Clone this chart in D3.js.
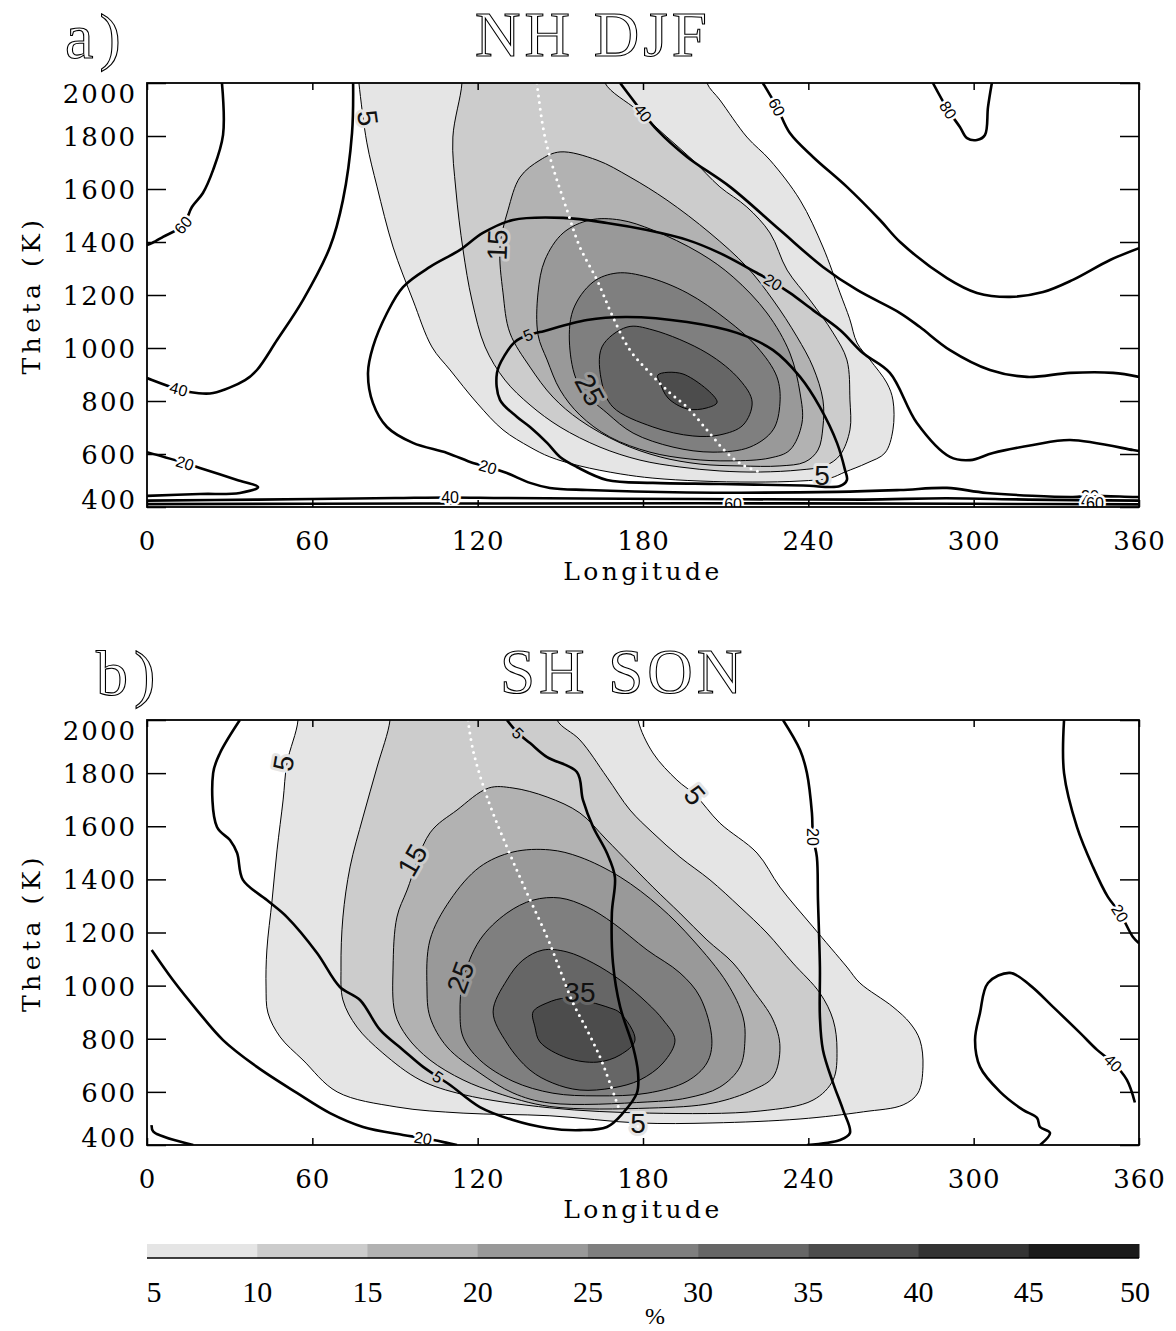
<!DOCTYPE html>
<html><head><meta charset="utf-8">
<script src="https://cdn.jsdelivr.net/npm/d3@7"></script>
<style>body{margin:0;background:#fff}</style>
</head><body><svg id="c" width="1176" height="1331"></svg>
<script>
// ---------------- data ----------------
const lonTicks = [0,60,120,180,240,300,360];
const thetaTicks = [400,600,800,1000,1200,1400,1600,1800,2000];
const cbTicks = [5,10,15,20,25,30,35,40,45,50];
const bandColors = ['#e5e5e5','#cccccc','#b2b2b2','#999999','#7f7f7f','#666666','#4c4c4c','#333333','#1a1a1a'];
const shadeLevels = [5,10,15,20,25,30,35];

// Panel a (NH DJF): shaded contours [lon, theta]
const a_c5 = [[76,2100],[76.9,2000],[79.8,1774],[83.5,1608],[89.3,1381],[96.5,1181],[103.4,1004],[110,917],[119.8,792],[129.2,691],[139,626],[146.2,589],[157.1,555],[171.7,525],[183.6,509],[200.7,498],[219.9,494],[237,498],[247.9,509],[253.3,532],[261.3,566],[267.8,604],[270.7,691],[270.7,804],[268.5,868],[262.4,955],[257.7,1019],[255,1110],[251.5,1208],[245.3,1381],[237,1558],[226.1,1709],[217.7,1796],[207.9,1936],[203.2,2000],[202,2100]];
const a_c10 = [[114,2100],[114.3,2000],[111,1796],[112.1,1596],[114.7,1370],[117.9,1181],[122.7,1004],[129.9,879],[139,785],[149.9,702],[164.4,626],[178.9,577],[193.4,551],[207.9,536],[222.5,532],[237,540],[246,555],[251.5,596],[255.1,691],[255.1,804],[254,955],[249,1057],[240.6,1181],[232.3,1294],[226.1,1434],[217.7,1532],[207.9,1608],[198.1,1709],[188.7,1796],[177.8,1898],[166.2,2000],[165,2100]];
const a_c15 = [[149.9,1740],[142.6,1709],[135.4,1645],[131,1520],[128.1,1381],[129.2,1208],[131.7,1057],[139,928],[147.3,815],[157.1,728],[171.7,642],[186.2,589],[200.7,562],[215.2,555],[229.7,555],[238.8,570],[243.5,615],[245.3,702],[245.3,804],[241.7,928],[235.9,1042],[227.2,1181],[217.7,1306],[204.3,1434],[188.7,1558],[175.3,1645],[163.3,1709]];
const a_c20 = [[151,1434],[160.8,1483],[171.7,1483],[183.6,1445],[200.7,1358],[212.7,1268],[225,1132],[233.3,981],[237,830],[237.7,717],[233.3,615],[226.1,585],[211.6,574],[197.1,581],[182.5,607],[168,664],[157.1,747],[149.9,842],[145.2,955],[141.9,1050],[141.9,1208],[144.4,1332]];
const a_c25 = [[154.6,1143],[161.9,1249],[170.6,1283],[181.5,1268],[196,1208],[210.5,1106],[221.4,1004],[228.6,891],[229.7,792],[227.2,691],[218.8,626],[205.4,607],[190.9,626],[176.4,679],[166.9,755],[157.1,853],[153.5,992]];
const a_c30 = [[165.1,1004],[174.2,1079],[183.6,1068],[203.2,981],[215.2,879],[219.6,796],[216.3,709],[207.9,672],[198.1,668],[183.6,702],[169.1,777],[165.1,868]];
const a_c35 = [[185.4,898],[194.5,902],[206.9,796],[203.2,774],[196,770],[189.1,811],[186.2,868]];

// Panel a thick contours
const a_t60l = [[27.2,2000],[27.6,1804],[24,1672],[20.3,1585],[16.3,1532],[13.1,1464],[5.8,1419],[1.8,1396],[0,1389]];
const a_t40l = [[74.8,2000],[74.4,1811],[71.1,1558],[66.4,1381],[56.6,1181],[47.2,1030],[39.9,917],[35.6,879],[24,830],[18.1,830],[12,842],[1.8,879],[0,887]];
const a_t20l = [[0,607],[13.8,566],[19.2,547],[32.7,502],[40.3,475],[33.7,453],[19.2,449],[0,442]];
const a_t20 = [[360,611],[357.8,615],[335,653],[321.5,634],[307,604],[298.7,577],[291.4,589],[279.4,717],[269.6,906],[259.8,981],[251.5,1068],[241.7,1143],[233.3,1208],[227.2,1249],[221.4,1283],[207.9,1358],[196,1408],[181.5,1445],[166.9,1472],[151,1491],[132.8,1483],[121.9,1434],[113.6,1370],[102.7,1306],[92.9,1230],[87.1,1132],[82,1004],[80.2,906],[82,792],[87.1,702],[96.5,642],[108.9,604],[118.3,566],[123.7,551],[130.6,528],[139,491],[146.2,472],[159.7,464],[196,455],[250.4,457],[273.3,464],[290.3,472],[304.8,453],[336,438],[342.2,442],[357.8,438],[360,438]];
const a_t40 = [[171.7,2000],[180,1887],[185.1,1823],[196,1721],[211.6,1608],[229.7,1445],[245.3,1306],[257.7,1219],[273.3,1132],[280.5,1079],[291.4,992],[305.9,917],[319.4,891],[335,906],[350.6,906],[360,891]];
const a_t60 = [[223.5,2000],[228.6,1909],[233.3,1811],[241.7,1721],[254,1608],[266,1483],[273.3,1400],[290.3,1264],[301.2,1208],[313.2,1193],[325.2,1211],[336,1257],[349.5,1332],[360,1377]];
const a_t80 = [[285.2,2000],[290.7,1898],[295,1834],[297.6,1792],[301.2,1785],[304.1,1804],[305.2,1909],[306.6,2000]];
const a_t5 = [[138.3,1049],[142.6,1060],[159.7,1106],[174.2,1117],[196,1098],[214.1,1057],[227.2,992],[237,891],[244.2,777],[250.4,642],[253.3,540],[254,502],[251.5,479],[238.1,481],[207.9,487],[183.6,491],[166.9,502],[156,551],[149.9,589],[145.2,642],[139,702],[134.3,740],[128.1,804],[127,906],[129.9,974],[133.5,1023]];
const a_t40b = [[0,424],[40,428],[90,434],[110,436],[130,434],[200,430],[260,428],[290,433],[320,428],[360,424]];
const a_t60b = [[0,411],[100,413],[200,414],[300,412],[360,410]];
const a_dots = [[141.5,2000],[143.7,1834],[146.2,1721],[152.4,1521],[157.1,1381],[163.3,1257],[169.1,1117],[175.3,992],[182.5,906],[189.8,830],[196,777],[203.2,691],[210.5,604],[216.3,558],[223.5,528]];
const a_bigLabels = [[80.2,1868,'5'],[127,1389,'15'],[160.8,842,'25'],[245,521,'5']];
const a_smallLabels = [[13.1,1464,'60'],[11.5,845,'40'],[13.8,566,'20'],[180,1887,'40'],[228.6,1909,'60'],[290.7,1898,'80'],[227.2,1249,'20'],[138.3,1049,'5'],[123.7,551,'20'],[110,437,'40'],[212.7,410,'60'],[342.2,442,'20'],[342.2,421,'40'],[344,414,'60']];

// Panel b (SH SON)
const b_c5 = [[54,2100],[54.8,2000],[50.8,1838],[49.4,1699],[47.2,1511],[45.4,1322],[43.5,1134],[43.2,995],[43.9,897],[48.3,807],[56.6,720],[69,600],[90.7,543],[114.7,520],[146.2,510],[178.2,483],[205.4,483],[237,498],[260,525],[274.4,551],[279.8,596],[281.6,694],[280.5,795],[276.9,859],[270.7,920],[258.7,1010],[254,1070],[241.7,1221],[229.7,1371],[221.4,1499],[207.9,1612],[198.9,1718],[192.3,1774],[183.6,1876],[178.2,2000],[178,2100]];
const b_c10 = [[88,2100],[88.2,2000],[83.5,1823],[78.4,1635],[73.7,1447],[71.1,1258],[70.4,1070],[71.1,946],[76.2,844],[85.6,746],[99.1,645],[114.7,590],[146.2,540],[182.5,520],[222.5,528],[241.7,569],[249,645],[250.4,758],[249,871],[244.2,972],[234.4,1085],[225,1198],[215.2,1296],[204.3,1398],[193.4,1484],[183.6,1575],[175.3,1661],[166.9,1785],[157.1,1925],[148.8,2000],[148,2100]];
const b_c15 = [[102.7,1575],[94.4,1360],[90.7,1258],[89.3,1070],[90,897],[94.4,807],[102.7,720],[114.7,645],[127,596],[146.2,545],[182.5,539],[205.4,558],[219.9,607],[227.2,656],[229.7,769],[227.2,871],[219.9,984],[212.7,1085],[203.2,1172],[193.4,1273],[183.6,1371],[166.9,1548],[157.1,1650],[145.2,1710],[132.8,1744],[124,1744],[112.5,1661]];
const b_c20 = [[101.6,995],[102.7,1172],[110,1322],[120.8,1447],[132.8,1503],[146.2,1511],[157.1,1484],[171.7,1409],[186.2,1296],[198.1,1172],[210.5,1010],[216.3,882],[217,795],[215.2,694],[207.9,618],[196,577],[181.5,562],[146.2,558],[132.8,596],[120.8,671],[108.9,769],[102.7,882]];
const b_c25 = [[113.6,901],[114.7,1021],[120.8,1172],[130.6,1273],[140.1,1322],[149.9,1330],[159.7,1296],[169.1,1236],[181.5,1134],[193.4,1048],[200.7,957],[205,795],[203.2,709],[196,640],[181.5,595],[163.3,585],[147.3,595],[132.8,640],[120.8,720],[114.7,807]];
const b_c30 = [[125.6,901],[130.6,1021],[136.4,1096],[143.7,1134],[152.4,1127],[161.9,1085],[171.7,1021],[181.5,935],[187.3,871],[191.6,795],[187.3,709],[178.9,645],[169.1,615],[157.1,607],[147.3,633],[139,682],[130.6,784]];
const b_c35 = [[140.1,901],[145.2,935],[152.4,953],[168,916],[171.7,897],[177.1,795],[171.7,739],[163.3,712],[152.4,728],[142.6,788],[140.8,844]];

const b_t5 = [[33.7,2000],[26.5,1876],[24,1800],[25.4,1597],[30.1,1548],[32.7,1499],[34.8,1398],[43.5,1322],[50.8,1258],[61.7,1123],[70,995],[77.3,946],[84.6,833],[92.9,758],[100.2,694],[105.6,656],[110,626],[120.8,543],[132.8,494],[145.2,464],[157.1,456],[166.9,468],[172.7,520],[177.8,596],[178.2,671],[176.4,769],[171.7,920],[169.1,1085],[168.7,1273],[169.8,1409],[166.9,1499],[161.9,1597],[158.2,1699],[156,1804],[145.2,1860],[139,1913],[134.6,1951],[130.6,2000]];
const b_t20v = [[230.8,2000],[237,1887],[239.5,1800],[241.3,1650],[241.7,1560],[243.1,1484],[243.5,1322],[244.2,1070],[244.2,882],[245.3,758],[249,633],[252.6,532],[255.1,445],[251.5,419],[239.5,400]];
const b_t20l = [[1.7,1134],[9.4,1021],[18.1,908],[27.6,795],[39.9,694],[54.4,596],[66.4,520],[78.4,468],[92.9,438],[100.2,426],[108.9,408],[112.5,400]];
const b_tl = [[1.7,475],[2.3,450],[16.8,400]];
const b_t20r = [[332.8,2000],[332.8,1800],[337.5,1597],[343.3,1447],[348.7,1334],[353.1,1273],[357.8,1183],[360,1160]];
const b_t40r = [[324.1,400],[327.7,445],[324.1,468],[323,502],[317.9,532],[309.6,600],[302.3,694],[300.5,795],[302.3,897],[305.2,1010],[313.2,1048],[320.4,1002],[328.8,920],[338.6,822],[344.8,758],[350.6,709],[355.6,645],[358.5,560]];
const b_dots = [[116.5,2000],[118.3,1887],[123.4,1710],[130.6,1522],[137.9,1349],[145.2,1183],[149.9,1059],[154.6,935],[159.7,833],[164.4,731],[168,633],[171.7,524]];
const b_bigLabels = [[49.4,1838,'5'],[96.2,1473,'15'],[113.6,1032,'25'],[157.1,975,'35'],[198.9,1718,'5'],[178.2,483,'5']];
const b_smallLabels = [[134.6,1951,'5'],[241.7,1560,'20'],[353.1,1273,'20'],[350.6,709,'40'],[105.6,656,'5'],[100.2,426,'20']];

// ---------------- styles (kept apart from data) ----------------
const a_bigStyle = [[82,'#e5e5e5'],[-88,'#cccccc'],[62,'#999999'],[0,'#e5e5e5']];
const a_smallStyle = [[-50,'#fff'],[15,'#fff'],[17,'#fff'],[52,'#e5e5e5'],[62,'#fff'],[58,'#fff'],[31,'#cccccc'],[-22,'#b2b2b2'],[16,'#fff'],[0,'#fff'],[0,'#fff'],[0,'#fff'],[0,'#fff'],[0,'#fff']];
const b_bigStyle = [[-80,'#e5e5e5'],[-60,'#cccccc'],[-70,'#999999'],[0,'#666666'],[50,'#e5e5e5'],[0,'#e5e5e5']];
const b_smallStyle = [[45,'#cccccc'],[90,'#fff'],[58,'#fff'],[45,'#fff'],[34,'#cccccc'],[10,'#fff']];

// ---------------- drawing ----------------
const svg = d3.select('#c');
const x = d3.scaleLinear().domain([0,360]).range([147,1139]);
const colorOf = lv => bandColors[shadeLevels.indexOf(lv)];

function drawPanel(cfg){
  const y = d3.scaleLinear().domain([400,2000]).range([cfg.bottom, cfg.top]);
  const g = svg.append('g');
  const clipId = 'clip' + cfg.id;
  svg.append('clipPath').attr('id', clipId).append('rect')
     .attr('x', x(0)).attr('y', y(2000)).attr('width', x(360)-x(0)).attr('height', y(400)-y(2000));
  const pg = g.append('g').attr('clip-path', `url(#${clipId})`);
  const closed = d3.line().x(d=>x(d[0])).y(d=>y(d[1])).curve(d3.curveCatmullRomClosed.alpha(0.5));
  const open = d3.line().x(d=>x(d[0])).y(d=>y(d[1])).curve(d3.curveCatmullRom.alpha(0.5));

  cfg.shaded.forEach((c,i)=>{
    pg.append('path').attr('d', closed(c)).attr('fill', colorOf(shadeLevels[i]))
      .attr('stroke','#000').attr('stroke-width',1);
  });
  cfg.big.forEach((d,i)=>{
    const s = cfg.bigStyle[i];
    pg.append('text').attr('transform',`translate(${x(d[0])},${y(d[1])}) rotate(${s[0]})`)
      .attr('text-anchor','middle').attr('dy','0.36em')
      .attr('font-family','Liberation Sans, Arial, sans-serif').attr('font-size',28)
      .attr('fill','#111').attr('stroke',s[1]).attr('stroke-width',6)
      .attr('paint-order','stroke').attr('stroke-linejoin','round').text(d[2]);
  });
  cfg.thick.forEach(c=>{
    pg.append('path').attr('d', open(c)).attr('fill','none')
      .attr('stroke','#000').attr('stroke-width',2.6).attr('stroke-linejoin','round');
  });
  cfg.thickClosed.forEach(c=>{
    pg.append('path').attr('d', closed(c)).attr('fill','none')
      .attr('stroke','#000').attr('stroke-width',2.6).attr('stroke-linejoin','round');
  });
  pg.append('path').attr('d', open(cfg.dots)).attr('fill','none')
    .attr('stroke','#fff').attr('stroke-width',3).attr('stroke-linecap','round')
    .attr('stroke-dasharray','0,6.6');
  cfg.small.forEach((d,i)=>{
    const s = cfg.smallStyle[i];
    pg.append('text').attr('transform',`translate(${x(d[0])},${y(d[1])}) rotate(${s[0]})`)
      .attr('text-anchor','middle').attr('dy','0.36em')
      .attr('font-family','Liberation Sans, Arial, sans-serif').attr('font-size',16)
      .attr('fill','#000').attr('stroke',s[1]).attr('stroke-width',5)
      .attr('paint-order','stroke').attr('stroke-linejoin','round').text(d[2]);
  });

  // axes
  const fontAxis = 'DejaVu Serif, serif';
  const gl = g.append('g').attr('transform',`translate(${x(0)},0)`)
    .call(d3.axisLeft(y).tickValues(thetaTicks).tickSizeInner(-19).tickSizeOuter(0).tickPadding(10).tickFormat(d3.format('d')));
  gl.select('.domain').remove();
  gl.selectAll('line').attr('stroke','#000').attr('stroke-width',1.5);
  gl.selectAll('text').attr('font-family',fontAxis).attr('font-size',26).attr('fill','#000')
    .attr('letter-spacing',2)
    .attr('dy', d => d===2000 ? '0.75em' : (d===400 ? '0.05em' : '0.36em'));
  const gr = g.append('g').attr('transform',`translate(${x(360)},0)`)
    .call(d3.axisRight(y).tickValues(thetaTicks).tickSizeInner(-19).tickSizeOuter(0).tickFormat(''));
  gr.select('.domain').remove();
  gr.selectAll('line').attr('stroke','#000').attr('stroke-width',1.5);
  const gb = g.append('g').attr('transform',`translate(0,${y(400)})`)
    .call(d3.axisBottom(x).tickValues(lonTicks).tickSizeInner(-7).tickSizeOuter(0).tickPadding(25).tickFormat(d3.format('d')));
  gb.select('.domain').remove();
  gb.selectAll('line').attr('stroke','#000').attr('stroke-width',1.5);
  gb.selectAll('text').attr('font-family',fontAxis).attr('font-size',26).attr('fill','#000').attr('letter-spacing',1);
  const gt = g.append('g').attr('transform',`translate(0,${y(2000)})`)
    .call(d3.axisTop(x).tickValues(lonTicks).tickSizeInner(-7).tickSizeOuter(0).tickFormat(''));
  gt.select('.domain').remove();
  gt.selectAll('line').attr('stroke','#000').attr('stroke-width',1.5);

  g.append('rect').attr('x',x(0)).attr('y',y(2000)).attr('width',x(360)-x(0)).attr('height',y(400)-y(2000))
    .attr('fill','none').attr('stroke','#000').attr('stroke-width',1.8);

  // axis titles
  g.append('text').attr('x',643).attr('y',y(400)+73).attr('text-anchor','middle')
    .attr('font-family',fontAxis).attr('font-size',25).attr('letter-spacing',3.4).text('Longitude');
  g.append('text').attr('transform',`translate(40,${(y(400)+y(2000))/2}) rotate(-90)`).attr('text-anchor','middle')
    .attr('font-family',fontAxis).attr('font-size',25).attr('letter-spacing',4.5).text('Theta (K)');
  // panel titles
  g.append('text').attr('x',cfg.tagX).attr('y',y(2000)-25).attr('font-family','Liberation Serif, serif')
    .attr('font-size',64).attr('letter-spacing',6).attr('fill','#fff').attr('stroke','#000').attr('stroke-width',1.1).text(cfg.tag);
  g.append('text').attr('x',cfg.titleX).attr('y',y(2000)-27).attr('font-family','Liberation Serif, serif')
    .attr('font-size',63).attr('letter-spacing',4).attr('fill','#fff').attr('stroke','#000').attr('stroke-width',1.1).text(cfg.title);
}

drawPanel({id:'a', top:83, bottom:507, tag:'a)', tagX:65, title:'NH DJF', titleX:475,
  shaded:[a_c5,a_c10,a_c15,a_c20,a_c25,a_c30,a_c35],
  thick:[a_t60l,a_t40l,a_t20l,a_t20,a_t40,a_t60,a_t80,a_t40b,a_t60b], thickClosed:[a_t5],
  dots:a_dots, big:a_bigLabels, bigStyle:a_bigStyle, small:a_smallLabels, smallStyle:a_smallStyle});
drawPanel({id:'b', top:720, bottom:1145, tag:'b)', tagX:96, title:'SH SON', titleX:500,
  shaded:[b_c5,b_c10,b_c15,b_c20,b_c25,b_c30,b_c35],
  thick:[b_t5,b_t20v,b_t20l,b_tl,b_t20r,b_t40r], thickClosed:[],
  dots:b_dots, big:b_bigLabels, bigStyle:b_bigStyle, small:b_smallLabels, smallStyle:b_smallStyle});

// colorbar
const cb = d3.scaleLinear().domain([5,50]).range([147,1139]);
const cg = svg.append('g');
cg.selectAll('rect').data(d3.range(bandColors.length)).join('rect')
  .attr('x', i=>cb(cbTicks[i])).attr('y',1244).attr('width', i=>cb(cbTicks[i+1])-cb(cbTicks[i])+0.5)
  .attr('height',14).attr('fill', i=>bandColors[i]);
cg.append('line').attr('x1',cb(5)).attr('x2',cb(50)).attr('y1',1258).attr('y2',1258).attr('stroke','#000').attr('stroke-width',1.5);
cg.selectAll('text.t').data(cbTicks).join('text').attr('class','t')
  .attr('x', d=> cb(d) + (d===5 ? 7 : (d===50 ? -4 : 0))).attr('y',1302).attr('text-anchor','middle')
  .attr('font-family','Liberation Serif, serif').attr('font-size',30).text(d=>d);
cg.append('text').attr('x',655).attr('y',1324).attr('text-anchor','middle')
  .attr('font-family','Liberation Serif, serif').attr('font-size',24).text('%');
</script></body></html>
